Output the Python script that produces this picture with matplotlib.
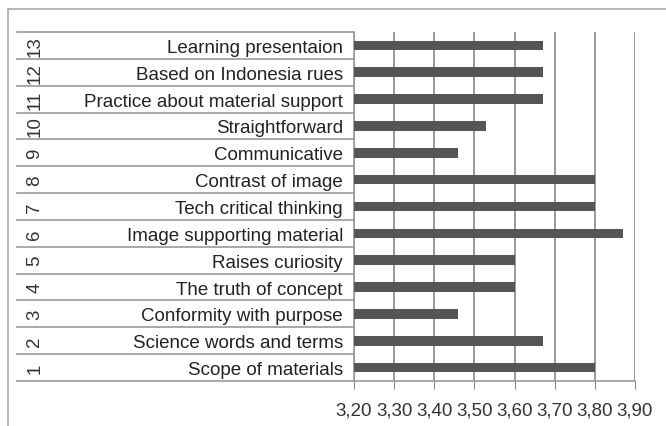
import numpy as np
import matplotlib.pyplot as plt
from matplotlib.lines import Line2D

plt.rcParams['font.family'] = ['Liberation Sans', 'DejaVu Sans']

numeros = ['1', '2', '3', '4', '5', '6', '7', '8', '9', '10', '11', '12', '13']
categorias = [
    "Scope of materials", "Science words and terms", "Conformity with purpose",
    "The truth of concept", "Raises curiosity", "Image supporting material",
    "Tech critical thinking", "Contrast of image", "Communicative",
    "Straightforward", "Practice about material support",
    "Based on Indonesia rues", "Learning presentaion",
]
valores = [3.80, 3.67, 3.46, 3.60, 3.60, 3.87, 3.80, 3.80, 3.46, 3.53, 3.67, 3.67, 3.67]
ticks_x = [3.20, 3.30, 3.40, 3.50, 3.60, 3.70, 3.80, 3.90]

W, H = 666, 427
fig = plt.figure(figsize=(W / 100, H / 100), dpi=100, facecolor='white')
ax_left, ax_right, ax_top, ax_bot = 354, 635, 33, 382
ax = fig.add_axes([ax_left / W, 1 - ax_bot / H, (ax_right - ax_left) / W, (ax_bot - ax_top) / H])

y = np.arange(len(categorias))
ax.barh(y, valores, height=0.36, color='#555555', zorder=3)

ax.set_xlim(3.20, 3.90)
ax.set_ylim(-0.5, len(categorias) - 0.5)
ax.set_xticks(ticks_x)
ax.set_xticklabels([f"{t:.2f}".replace('.', ',') for t in ticks_x], fontsize=13.5, color='#333333')
ax.tick_params(axis='x', length=6, color='#888888', pad=9)
ax.set_yticks(y)
ax.set_yticklabels(categorias, fontsize=13.5, color='#222222')
ax.tick_params(axis='y', length=0, pad=8)

ax.grid(axis='x', color='#888888', linewidth=1.2, zorder=0)
for s in ['top', 'right']:
    ax.spines[s].set_visible(False)
for s in ['left', 'bottom']:
    ax.spines[s].set_color('#999999')
    ax.spines[s].set_linewidth(1.2)

# tabla de categorias a la izquierda
x0 = (17 - ax_left) / (ax_right - ax_left)
tr = ax.get_yaxis_transform()
for b in np.arange(-0.5, len(categorias), 1.0):
    ax.plot([x0, 0], [b, b], transform=tr, color='#999999', lw=1.2, clip_on=False)
xn = (35 - ax_left) / (ax_right - ax_left)
for i, n in enumerate(numeros):
    ax.text(xn, i, n, transform=tr, rotation=90, ha='center', va='center',
            fontsize=13.5, color='#333333')

# marco exterior
fig.add_artist(Line2D([8 / W, 8 / W], [0, 1 - 10 / H], color='#aaaaaa', lw=1.2))
fig.add_artist(Line2D([8 / W, 1], [1 - 10 / H, 1 - 10 / H], color='#aaaaaa', lw=1.2))

fig.savefig('out.png', dpi=100)
